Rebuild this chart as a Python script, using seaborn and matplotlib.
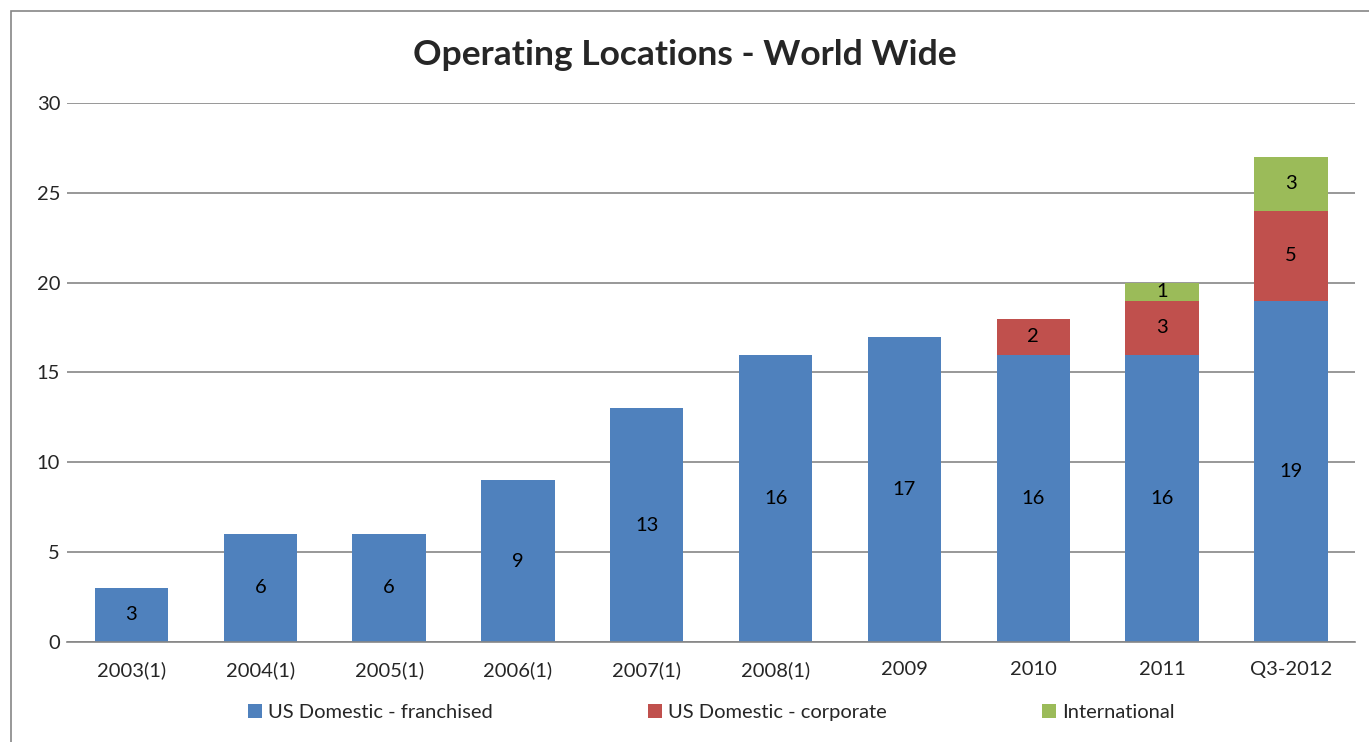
import numpy as np
import pandas as pd
import matplotlib
matplotlib.use("Agg")
import matplotlib.pyplot as plt
import seaborn as sns
from matplotlib.patches import Rectangle

years = ["2003(1)", "2004(1)", "2005(1)", "2006(1)", "2007(1)",
         "2008(1)", "2009", "2010", "2011", "Q3-2012"]
franchised = [3, 6, 6, 9, 13, 16, 17, 16, 16, 19]
corporate = [0, 0, 0, 0, 0, 0, 0, 2, 3, 5]
international = [0, 0, 0, 0, 0, 0, 0, 0, 1, 3]

series_names = ["US Domestic - franchised", "US Domestic - corporate", "International"]
colors = ["#4F81BD", "#C0504D", "#9BBB59"]

sns.set_style("white")
plt.rcParams["font.family"] = ["Lato", "DejaVu Sans"]

fig = plt.figure(figsize=(13.69, 7.42), dpi=100)
ax = fig.add_axes([0.049, 0.135, 0.941, 0.726])

# chart border like the spreadsheet frame
fig.patches.append(Rectangle((11 / 1369, -0.01), 1.0, 1 - 11 / 742 + 0.01,
                             transform=fig.transFigure, fill=False,
                             edgecolor="#868686", linewidth=1.2))

df = pd.DataFrame({"year": years, "fr": franchised, "co": corporate, "intl": international})
bottom = np.zeros(len(years))
for col, name, color in zip(["fr", "co", "intl"], series_names, colors):
    vals = df[col].values
    sns.barplot(data=df, x="year", y=col, color=color, width=0.57,
                bottom=bottom, ax=ax, label=name, saturation=1, linewidth=0)
    bottom = bottom + vals

for cont, col in zip(ax.containers, ["fr", "co", "intl"]):
    labels = [str(v) if v > 0 else "" for v in df[col]]
    ax.bar_label(cont, labels=labels, label_type="center", fontsize=14.5, color="black")

ax.set_ylim(0, 30)
ax.set_yticks(range(0, 31, 5))
ax.set_xlim(-0.5, len(years) - 0.5)
ax.yaxis.grid(True, color="#868686", linewidth=1.2)
ax.set_axisbelow(True)
for s in ["top", "right", "left"]:
    ax.spines[s].set_visible(False)
ax.spines["bottom"].set_color("#868686")
ax.spines["bottom"].set_linewidth(1.2)
ax.set_xlabel("")
ax.set_ylabel("")
ax.tick_params(axis="both", labelsize=14.5, length=0)
ax.tick_params(axis="x", pad=14)
ax.tick_params(axis="y", pad=5)

fig.suptitle("Operating Locations - World Wide", fontsize=25.5, fontweight="bold", y=0.948)

ax.legend(loc="upper center", bbox_to_anchor=(0.5, -0.082), ncol=3, frameon=False,
          fontsize=14.5, handlelength=0.7, handleheight=0.7, handletextpad=0.3,
          columnspacing=7.7)

fig.savefig("out.png", dpi=100)
